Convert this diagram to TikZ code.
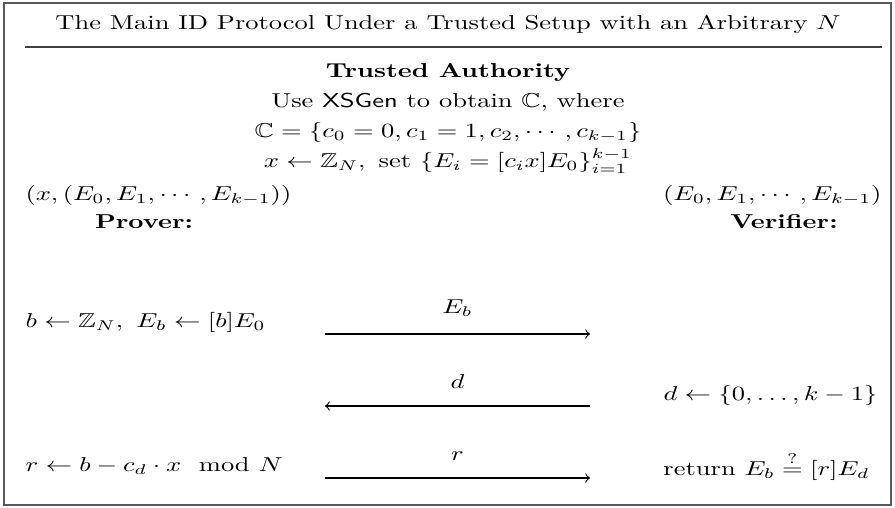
\documentclass[tikz,border=0pt]{standalone}
\usepackage{amsmath,amssymb,graphicx}
\usetikzlibrary{positioning}
% the page is set a little flatter than wide
\newcommand{\vsq}[1]{\scalebox{1}[0.76]{#1}}

\begin{document}
\begin{tikzpicture}[x=0.3774pt,y=-0.3774pt,
  msg/.style={->},
  lbl/.style={inner sep=0pt}]
\useasboundingbox (0,0) rectangle (895,508);
\draw[black!65,line width=0.6pt] (4,3) rectangle (891,505);
% header
\node[lbl] (title) at (448,24) {\vsq{The Main ID Protocol Under a Trusted Setup with an Arbitrary $N$}};
\coordinate (rulel) at (25,47);
\coordinate (ruler) at (882,47);
\draw[black!75,line width=0.5pt] (rulel) -- (ruler);
% trusted setup
\node[lbl] (ta) at (448,72) {\vsq{\textbf{Trusted Authority}}};
\node[lbl] (gen) at (448,102) {\vsq{Use \textsf{XSGen} to obtain $\mathbb{C}$, where}};
\node[lbl] (cset) at (448,132) {\vsq{$\mathbb{C}=\{c_0=0,c_1=1,c_2,\cdots,c_{k-1}\}$}};
\node[lbl] (keys) at (448,161) {\vsq{$x\leftarrow\mathbb{Z}_N,\ \text{set}\ \{E_i=[c_ix]E_0\}_{i=1}^{k-1}$}};
% parties
\node[lbl,anchor=west] (sk) at (25,195) {\vsq{$(x,(E_0,E_1,\cdots,E_{k-1}))$}};
\node[lbl,anchor=east] (pk) at (882,195) {\vsq{$(E_0,E_1,\cdots,E_{k-1})$}};
\node[lbl] (prover) at (144,222) {\vsq{\textbf{Prover:}}};
\node[lbl] (verifier) at (784,222) {\vsq{\textbf{Verifier:}}};
% rounds
\node[lbl,anchor=west] (commit) at (25,322) {\vsq{$b\leftarrow\mathbb{Z}_N,\ E_b\leftarrow[b]E_0$}};
\node[lbl,anchor=east] (chal) at (878,395) {\vsq{$d\leftarrow\{0,\ldots,k-1\}$}};
\node[lbl,anchor=west] (resp) at (25,466) {\vsq{$r\leftarrow b-c_d\cdot x\mod N$}};
\node[lbl,anchor=east] (check) at (870,466) {\vsq{return $E_b\stackrel{?}{=}[r]E_d$}};
\coordinate (a1l) at (325,334);
\coordinate (a1r) at (590,334);
\coordinate (a2l) at (325,406);
\coordinate (a2r) at (590,406);
\coordinate (a3l) at (325,478);
\coordinate (a3r) at (590,478);
\draw[msg] (a1l) -- node[above=3pt] {\vsq{$E_b$}} (a1r);
\draw[msg] (a2r) -- node[above=3pt] {\vsq{$d$}} (a2l);
\draw[msg] (a3l) -- node[above=3pt] {\vsq{$r$}} (a3r);
\end{tikzpicture}
\end{document}
